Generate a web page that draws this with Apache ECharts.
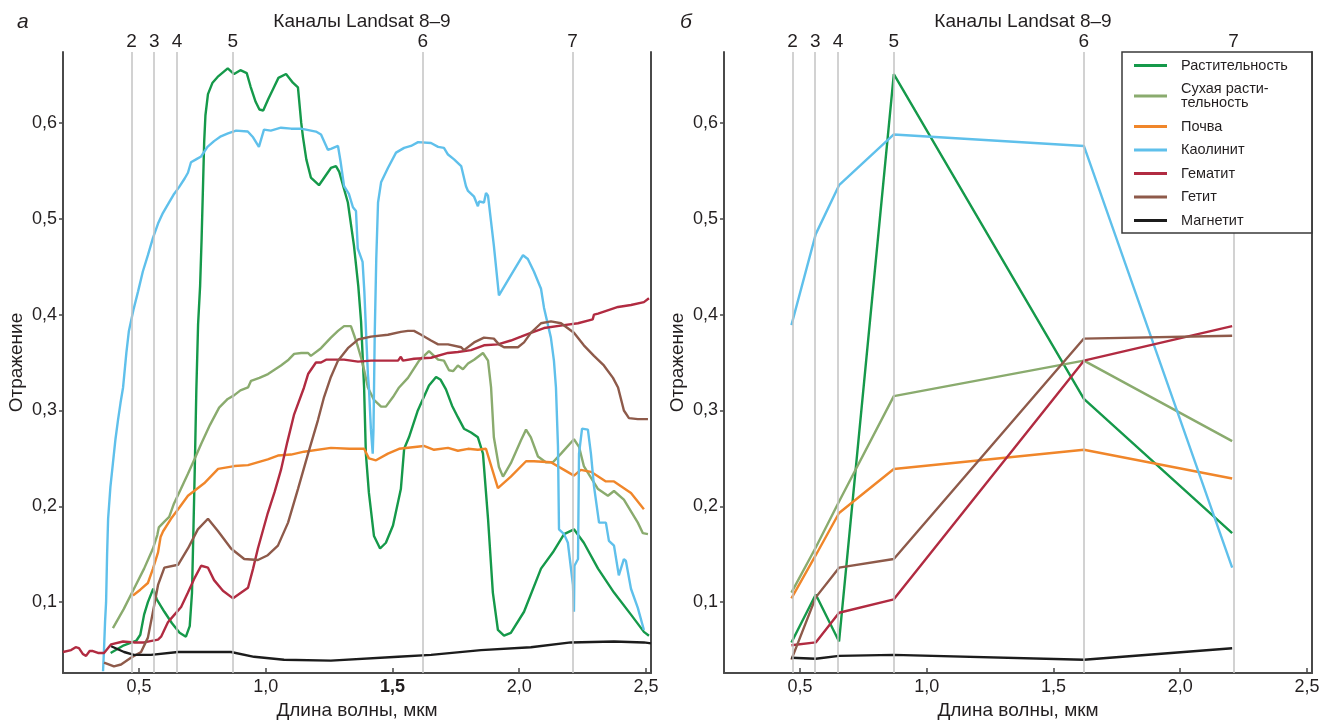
<!DOCTYPE html>
<html>
<head>
<meta charset="utf-8">
<script src="https://cdn.jsdelivr.net/npm/echarts@6/dist/echarts.min.js"></script>
<style>
html,body{margin:0;padding:0;background:#fff;}
#c{width:1332px;height:725px;}
</style>
</head>
<body>
<div id="c"></div>
<script>
// ---------- DATA ----------
const seriesNames = ['Растительность','Сухая растительность','Почва','Каолинит','Гематит','Гетит','Магнетит'];
const legendLabels = ['Растительность','Сухая расти-\nтельность','Почва','Каолинит','Гематит','Гетит','Магнетит'];
const colors = ['#15994a','#8aab6e','#f0862a','#5fc0eb','#b12b41','#8e5a4a','#1c1c1c'];

const bandLabels = ['2','3','4','5','6','7'];
const bandWl = [0.466,0.562,0.654,0.87,1.62,2.205];

const xTicks = [0.5,1.0,1.5,2.0,2.5];
const yTicks = [0.1,0.2,0.3,0.4,0.5,0.6];

// Panel a: laboratory spectra [wavelength, reflectance]
const vegSpec = [[0.388,0.047],[0.44,0.055],[0.49,0.060],[0.505,0.066],[0.52,0.087],[0.535,0.100],[0.556,0.114],[0.57,0.103],[0.6,0.090],[0.63,0.078],[0.66,0.068],[0.685,0.064],[0.700,0.075],[0.709,0.11],[0.715,0.18],[0.72,0.24],[0.726,0.32],[0.733,0.39],[0.741,0.43],[0.747,0.48],[0.752,0.53],[0.757,0.58],[0.762,0.608],[0.772,0.630],[0.79,0.642],[0.81,0.648],[0.85,0.657],[0.875,0.651],[0.9,0.655],[0.925,0.652],[0.94,0.638],[0.96,0.622],[0.975,0.614],[0.99,0.613],[1.01,0.625],[1.03,0.636],[1.05,0.647],[1.08,0.651],[1.107,0.642],[1.127,0.637],[1.14,0.60],[1.147,0.585],[1.16,0.562],[1.178,0.543],[1.21,0.535],[1.257,0.553],[1.277,0.555],[1.29,0.549],[1.31,0.53],[1.324,0.517],[1.348,0.472],[1.365,0.43],[1.376,0.393],[1.388,0.324],[1.395,0.255],[1.407,0.214],[1.427,0.169],[1.451,0.156],[1.474,0.162],[1.502,0.18],[1.533,0.218],[1.546,0.26],[1.565,0.272],[1.6,0.30],[1.644,0.326],[1.672,0.335],[1.69,0.332],[1.711,0.322],[1.735,0.305],[1.758,0.293],[1.782,0.281],[1.81,0.277],[1.837,0.272],[1.857,0.255],[1.877,0.187],[1.896,0.110],[1.916,0.071],[1.94,0.065],[1.967,0.068],[2.019,0.090],[2.086,0.135],[2.133,0.152],[2.177,0.171],[2.216,0.176],[2.255,0.162],[2.311,0.135],[2.374,0.110],[2.441,0.087],[2.492,0.069],[2.512,0.065]];

const drySpec = [[0.397,0.073],[0.44,0.093],[0.48,0.114],[0.52,0.135],[0.555,0.156],[0.572,0.170],[0.578,0.178],[0.6,0.184],[0.619,0.189],[0.638,0.203],[0.665,0.218],[0.693,0.234],[0.72,0.25],[0.745,0.265],[0.78,0.285],[0.816,0.303],[0.85,0.312],[0.876,0.316],[0.9,0.321],[0.93,0.324],[0.942,0.331],[0.975,0.334],[1.009,0.338],[1.06,0.347],[1.09,0.353],[1.112,0.359],[1.14,0.36],[1.167,0.36],[1.178,0.357],[1.218,0.365],[1.257,0.376],[1.285,0.383],[1.309,0.388],[1.336,0.388],[1.348,0.379],[1.362,0.368],[1.376,0.355],[1.39,0.34],[1.403,0.324],[1.427,0.311],[1.455,0.304],[1.474,0.304],[1.502,0.314],[1.526,0.324],[1.561,0.334],[1.605,0.352],[1.644,0.362],[1.664,0.357],[1.68,0.353],[1.703,0.352],[1.723,0.342],[1.739,0.341],[1.758,0.347],[1.778,0.343],[1.798,0.349],[1.822,0.353],[1.857,0.36],[1.877,0.352],[1.889,0.324],[1.9,0.272],[1.92,0.241],[1.936,0.231],[1.967,0.245],[2.007,0.269],[2.027,0.28],[2.046,0.272],[2.074,0.252],[2.105,0.246],[2.133,0.246],[2.165,0.255],[2.216,0.27],[2.236,0.262],[2.255,0.242],[2.311,0.218],[2.35,0.211],[2.374,0.216],[2.413,0.207],[2.468,0.183],[2.488,0.172],[2.508,0.171]];

const soilSpec = [[0.476,0.107],[0.505,0.113],[0.535,0.12],[0.555,0.135],[0.575,0.152],[0.585,0.168],[0.595,0.174],[0.626,0.187],[0.66,0.199],[0.693,0.211],[0.757,0.224],[0.812,0.239],[0.876,0.242],[0.93,0.243],[1.008,0.249],[1.048,0.253],[1.1,0.254],[1.151,0.257],[1.257,0.261],[1.33,0.26],[1.388,0.26],[1.407,0.25],[1.435,0.248],[1.482,0.255],[1.526,0.26],[1.624,0.263],[1.664,0.259],[1.719,0.261],[1.758,0.258],[1.798,0.26],[1.837,0.259],[1.869,0.26],[1.916,0.219],[1.967,0.231],[2.027,0.247],[2.058,0.247],[2.125,0.246],[2.177,0.238],[2.216,0.232],[2.243,0.238],[2.283,0.236],[2.342,0.226],[2.374,0.226],[2.441,0.214],[2.492,0.197]];

const kaolSpec = [[0.358,0.028],[0.362,0.052],[0.366,0.08],[0.37,0.1],[0.374,0.15],[0.378,0.187],[0.387,0.22],[0.397,0.245],[0.407,0.27],[0.417,0.29],[0.427,0.308],[0.437,0.324],[0.45,0.36],[0.46,0.383],[0.478,0.405],[0.496,0.424],[0.515,0.445],[0.535,0.462],[0.555,0.48],[0.575,0.495],[0.594,0.506],[0.614,0.515],[0.636,0.525],[0.658,0.533],[0.68,0.542],[0.693,0.548],[0.705,0.559],[0.725,0.562],[0.745,0.565],[0.77,0.575],[0.796,0.581],[0.823,0.586],[0.851,0.589],[0.883,0.592],[0.929,0.591],[0.95,0.585],[0.973,0.575],[0.993,0.593],[1.02,0.592],[1.06,0.595],[1.1,0.594],[1.139,0.594],[1.198,0.591],[1.218,0.588],[1.245,0.572],[1.257,0.573],[1.285,0.576],[1.295,0.56],[1.309,0.534],[1.328,0.526],[1.344,0.512],[1.356,0.508],[1.363,0.469],[1.382,0.455],[1.389,0.424],[1.396,0.38],[1.403,0.338],[1.407,0.324],[1.415,0.28],[1.422,0.255],[1.425,0.28],[1.43,0.38],[1.436,0.458],[1.443,0.517],[1.455,0.538],[1.482,0.553],[1.514,0.569],[1.546,0.574],[1.573,0.576],[1.601,0.58],[1.652,0.579],[1.68,0.575],[1.703,0.574],[1.719,0.567],[1.743,0.562],[1.771,0.555],[1.79,0.534],[1.798,0.529],[1.822,0.523],[1.837,0.513],[1.842,0.518],[1.861,0.517],[1.869,0.527],[1.877,0.524],[1.9,0.472],[1.92,0.42],[1.967,0.441],[2.015,0.462],[2.034,0.458],[2.058,0.445],[2.086,0.427],[2.098,0.407],[2.125,0.376],[2.137,0.352],[2.145,0.324],[2.153,0.262],[2.157,0.176],[2.177,0.171],[2.192,0.162],[2.212,0.118],[2.216,0.09],[2.218,0.138],[2.232,0.145],[2.236,0.255],[2.248,0.281],[2.271,0.28],[2.283,0.255],[2.295,0.221],[2.315,0.183],[2.342,0.183],[2.354,0.164],[2.374,0.159],[2.393,0.128],[2.413,0.145],[2.421,0.143],[2.441,0.114],[2.468,0.094],[2.492,0.071]];

const hemSpec = [[0.2,0.048],[0.232,0.05],[0.25,0.053],[0.263,0.052],[0.278,0.046],[0.291,0.044],[0.305,0.049],[0.318,0.049],[0.338,0.047],[0.362,0.047],[0.39,0.056],[0.437,0.059],[0.48,0.058],[0.52,0.058],[0.575,0.061],[0.587,0.064],[0.614,0.079],[0.64,0.087],[0.666,0.095],[0.693,0.11],[0.717,0.124],[0.745,0.138],[0.772,0.136],[0.796,0.123],[0.831,0.112],[0.871,0.104],[0.93,0.115],[0.95,0.135],[0.969,0.156],[1.008,0.193],[1.035,0.215],[1.06,0.238],[1.085,0.267],[1.112,0.296],[1.151,0.324],[1.167,0.338],[1.198,0.35],[1.218,0.35],[1.238,0.353],[1.309,0.353],[1.364,0.351],[1.415,0.352],[1.522,0.352],[1.533,0.356],[1.541,0.352],[1.585,0.354],[1.652,0.355],[1.719,0.36],[1.758,0.361],[1.81,0.363],[1.861,0.368],[1.916,0.369],[1.967,0.373],[2.007,0.377],[2.046,0.381],[2.098,0.386],[2.177,0.389],[2.232,0.391],[2.29,0.395],[2.295,0.4],[2.311,0.401],[2.39,0.408],[2.441,0.41],[2.492,0.413],[2.512,0.417]];

const goeSpec = [[0.362,0.037],[0.401,0.033],[0.429,0.035],[0.468,0.042],[0.508,0.048],[0.535,0.063],[0.555,0.09],[0.575,0.118],[0.6,0.136],[0.654,0.139],[0.693,0.156],[0.732,0.176],[0.772,0.187],[0.812,0.174],[0.863,0.156],[0.915,0.145],[0.969,0.144],[1.008,0.149],[1.048,0.159],[1.088,0.183],[1.127,0.218],[1.167,0.255],[1.206,0.29],[1.23,0.314],[1.257,0.335],[1.285,0.352],[1.324,0.365],[1.364,0.374],[1.415,0.377],[1.482,0.379],[1.533,0.382],[1.561,0.383],[1.585,0.383],[1.613,0.379],[1.652,0.373],[1.68,0.369],[1.719,0.369],[1.771,0.366],[1.782,0.363],[1.822,0.371],[1.861,0.376],[1.9,0.375],[1.92,0.369],[1.94,0.366],[1.995,0.366],[2.019,0.371],[2.046,0.381],[2.086,0.391],[2.125,0.393],[2.165,0.391],[2.216,0.381],[2.255,0.368],[2.295,0.357],[2.334,0.347],[2.37,0.334],[2.39,0.324],[2.413,0.30],[2.433,0.292],[2.468,0.291],[2.508,0.291]];

const magSpec = [[0.39,0.054],[0.441,0.048],[0.48,0.045],[0.547,0.045],[0.654,0.048],[0.772,0.048],[0.863,0.048],[0.954,0.043],[1.072,0.04],[1.257,0.039],[1.522,0.043],[1.652,0.045],[1.849,0.05],[2.046,0.053],[2.204,0.058],[2.374,0.059],[2.492,0.058],[2.52,0.057]];

// Panel б: values resampled to Landsat bands 2..7
const vegBand  = [0.058,0.108,0.059,0.651,0.312,0.172];
const dryBand  = [0.110,0.157,0.205,0.315,0.352,0.268];
const soilBand = [0.104,0.149,0.193,0.239,0.259,0.229];
const kaolBand = [0.389,0.484,0.535,0.588,0.576,0.136];
const hemBand  = [0.055,0.058,0.089,0.103,0.352,0.388];
const goeBand  = [0.040,0.105,0.136,0.145,0.375,0.378];
const magBand  = [0.042,0.041,0.044,0.045,0.040,0.052];

// ---------- OPTIONS ----------
const specs = [vegSpec, drySpec, soilSpec, kaolSpec, hemSpec, goeSpec, magSpec];
const bands = [vegBand, dryBand, soilBand, kaolBand, hemBand, goeBand, magBand];

const FONT = '"Liberation Sans", Arial, Helvetica, sans-serif';
const TXT = '#231f20';
const AX = '#4a4a4a';
const X_MIN = 0.2, X_MAX = 2.52, Y_MIN = 0.026, Y_MAX = 0.674;

const fmt = v => v.toFixed(1).replace('.', ',');

function xAxisFor(gi, boldMid) {
  return {
    type: 'value', gridIndex: gi, min: X_MIN, max: X_MAX,
    name: 'Длина волны, мкм', nameLocation: 'middle', nameGap: 23,
    nameTextStyle: {fontSize: 19, color: TXT, fontFamily: FONT},
    axisLine: {show: true, onZero: false, lineStyle: {color: AX, width: 2}},
    axisTick: {show: true, inside: true, length: 5, lineStyle: {color: AX, width: 1.5}, customValues: xTicks},
    axisLabel: {
      show: true, margin: 5, fontSize: 18, color: TXT, fontFamily: FONT, customValues: xTicks,
      formatter: v => (boldMid && Math.abs(v - 1.5) < 1e-6) ? '{b|' + fmt(v) + '}' : fmt(v),
      rich: {b: {fontWeight: 'bold', fontSize: 18, color: TXT, fontFamily: FONT}}
    },
    splitLine: {show: false}
  };
}
function yAxisFor(gi) {
  return {
    type: 'value', gridIndex: gi, min: Y_MIN, max: Y_MAX,
    name: 'Отражение', nameLocation: 'middle', nameGap: 37, nameRotate: 90,
    nameTextStyle: {fontSize: 19, color: TXT, fontFamily: FONT},
    axisLine: {show: true, lineStyle: {color: AX, width: 2}},
    axisTick: {show: true, inside: false, length: 4, lineStyle: {color: AX, width: 1.5}, customValues: yTicks},
    axisLabel: {show: true, margin: 6, fontSize: 18, color: TXT, fontFamily: FONT, customValues: yTicks, formatter: fmt},
    splitLine: {show: false}
  };
}
function rightBorder(gi) {
  return {
    type: 'value', gridIndex: gi, min: Y_MIN, max: Y_MAX, position: 'right',
    axisLine: {show: true, lineStyle: {color: AX, width: 2}},
    axisTick: {show: false}, axisLabel: {show: false}, splitLine: {show: false}
  };
}
function bandSeries(gi) {
  return {
    type: 'line', name: 'bands' + gi, xAxisIndex: gi, yAxisIndex: gi * 2, data: [], z: 1,
    silent: true,
    markLine: {
      silent: true, symbol: ['none', 'none'], animation: false,
      lineStyle: {color: '#c3c3c3', width: 1.5, type: 'solid'},
      label: {show: true, position: 'end', formatter: '{b}', fontSize: 19, color: TXT, fontFamily: FONT, distance: 1},
      emphasis: {disabled: true},
      data: bandWl.map((w, i) => ({name: bandLabels[i], xAxis: w}))
    }
  };
}

const series = [bandSeries(0), bandSeries(1)];
seriesNames.forEach((n, i) => {
  series.push({
    type: 'line', name: n, xAxisIndex: 0, yAxisIndex: 0, data: specs[i],
    showSymbol: false, symbol: 'none', z: 3, color: colors[i],
    lineStyle: {color: colors[i], width: 2.4}
  });
});
seriesNames.forEach((n, i) => {
  series.push({
    type: 'line', name: n, xAxisIndex: 1, yAxisIndex: 2,
    data: bandWl.map((w, k) => [w, bands[i][k]]),
    showSymbol: false, symbol: 'none', z: 3, color: colors[i],
    lineStyle: {color: colors[i], width: 2.4}
  });
});

const option = {
  animation: false,
  backgroundColor: '#fff',
  textStyle: {fontFamily: FONT, color: TXT},
  title: [
    {text: 'а', left: 12, top: 7, textStyle: {fontSize: 21, fontStyle: 'italic', fontWeight: 'normal', color: TXT, fontFamily: FONT}},
    {text: 'Каналы Landsat 8–9', left: 357, textAlign: 'center', top: 7, textStyle: {fontSize: 19, fontWeight: 'normal', color: TXT, fontFamily: FONT}},
    {text: 'б', left: 675, top: 7, textStyle: {fontSize: 21, fontStyle: 'italic', fontWeight: 'normal', color: TXT, fontFamily: FONT}},
    {text: 'Каналы Landsat 8–9', left: 1018, textAlign: 'center', top: 7, textStyle: {fontSize: 19, fontWeight: 'normal', color: TXT, fontFamily: FONT}}
  ],
  grid: [
    {left: 63, right: 681, top: 52, bottom: 47, containLabel: false},
    {left: 724, right: 20, top: 52, bottom: 47, containLabel: false}
  ],
  xAxis: [xAxisFor(0, true), xAxisFor(1, false)],
  yAxis: [yAxisFor(0), rightBorder(0), yAxisFor(1), rightBorder(1)],
  legend: {
    data: seriesNames, orient: 'vertical', left: 1122, top: 52,
    padding: [6, 24, 5, 12], itemGap: 8.5, itemWidth: 33, itemHeight: 3, icon: 'rect',
    backgroundColor: '#fff', borderColor: '#3a3a3a', borderWidth: 1.5, borderRadius: 0,
    selectedMode: false, z: 10,
    formatter: n => legendLabels[seriesNames.indexOf(n)],
    textStyle: {fontSize: 14.5, lineHeight: 14, color: TXT, fontFamily: FONT, padding: [0, 0, 0, 9]}
  },
  series: series
};

const chart = echarts.init(document.getElementById('c'), null, {renderer: 'canvas'});
chart.setOption(option);
</script>
</body>
</html>
